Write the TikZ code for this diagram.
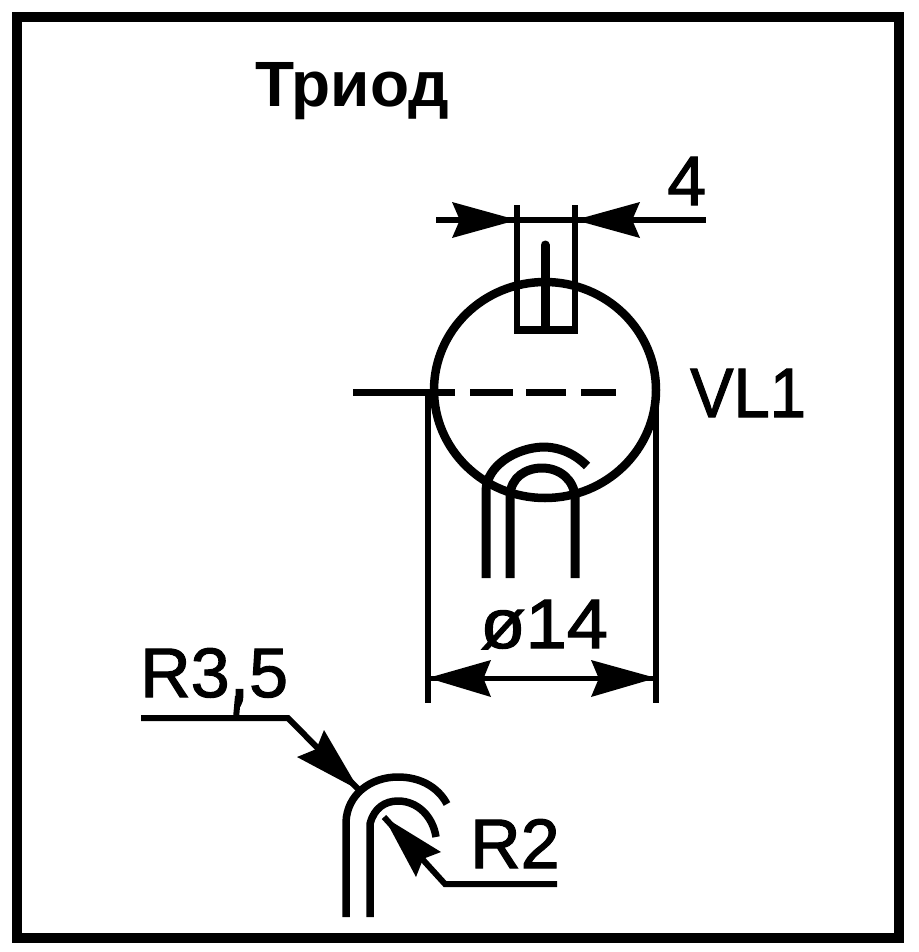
\documentclass[tikz,border=0pt]{standalone}
\usepackage{fontspec}
\setmainfont{Liberation Sans}
\newfontfamily\labelfont[FakeBold=1.6]{Liberation Sans}
\usetikzlibrary{calc}
\tikzset{
  line/.style={line width=#1,line cap=butt,line join=miter},
  line/.default=5pt,
  lbl/.style={inner sep=0pt,anchor=base west,font=\labelfont\fontsize{70}{70}\selectfont},
}
\newcommand{\dimtip}[3]{%
  \fill (#1) -- (#2) -- ($(#2)!.5!(#3)!.12!(#1)$) -- (#3) -- cycle;}
\begin{document}
\begin{tikzpicture}[x=1pt,y=-1pt]
\useasboundingbox (0,0) rectangle (918,952);
\fill[white] (0,0) rectangle (918,952);
% frame
\draw[line width=10.5pt] (17,17) rectangle (899,938);
% title and labels
\node[lbl,font=\bfseries\fontsize{64}{64}\selectfont] (title) at (255,107) {Триод};
\node[lbl,xscale=.93] (vl) at (690,417) {VL1};
\node[lbl] (four) at (667,205) {4};
\node[lbl,xscale=1.06] (dia) at (480,648) {ø14};
\node[lbl] (r35) at (140,697) {R3,5};
\node[lbl] (r2) at (470,868) {R2};
% bulb
\coordinate (c) at (545,390);
\draw[line width=8.5pt] (c) ellipse [x radius=111,y radius=108];
% anode
\draw[line=5.5pt] (517,205) -- (517,330);
\draw[line=5.5pt] (575,205) -- (575,330);
\draw[line=8pt] (514,330) -- (578,330);
\draw[line=9pt,line cap=round] (545,245) -- (545,328);
% grid
\draw[line=7pt] (353,392) -- (455,392);
\draw[line=7pt] (470,392) -- (513,392);
\draw[line=7pt] (526,392) -- (566,392);
\draw[line=7pt] (581,392) -- (616,392);
% cathode and heater
\draw[line=9pt] (486,578) -- (486,490) .. controls (487,466) and (515,448) .. (543,447) .. controls (560,447) and (575,454) .. (587,466);
\draw[line=9pt] (510,578) -- (510,495) .. controls (511,478) and (525,468) .. (542,468) .. controls (560,468) and (574,480) .. (575,497) -- (575,578);
% diameter dimension
\draw[line=6pt] (428,395) -- (428,703);
\draw[line=6pt] (656,395) -- (656,703);
\coordinate (dl) at (428,678);
\coordinate (dr) at (656,678);
\draw[line=5pt] (dl) -- (dr);
\dimtip{dl}{491,660}{491,697}
\dimtip{dr}{591,660}{591,697}
% width dimension
\coordinate (wl) at (517,220);
\coordinate (wr) at (575,220);
\draw[line=6pt] (436,220) -- (706,220);
\dimtip{wl}{452,202}{452,238}
\dimtip{wr}{640,202}{640,238}
% R3,5 leader
\coordinate (t1) at (359,790);
\coordinate (k1) at (288,718);
\draw[line=6pt] (141,718) -- (k1) -- (t1);
\dimtip{t1}{324,730}{297,757}
\draw[line=6pt] (236,718) -- (238,696);
% bend
\draw[line=7.5pt] (346,917) -- (346,822) .. controls (347,795) and (370,777) .. (398,777) .. controls (420,777) and (438,787) .. (447,804);
\draw[line=7.5pt] (370,917) -- (370,824) .. controls (374,808) and (385,801) .. (398,801) .. controls (418,801) and (433,817) .. (436,837);
% R2 leader
\coordinate (t2) at (384,817);
\coordinate (k2) at (445,884);
\draw[line=6pt] (557,884) -- (k2) -- (t2);
\dimtip{t2}{441,852}{416,877}
\end{tikzpicture}
\end{document}
